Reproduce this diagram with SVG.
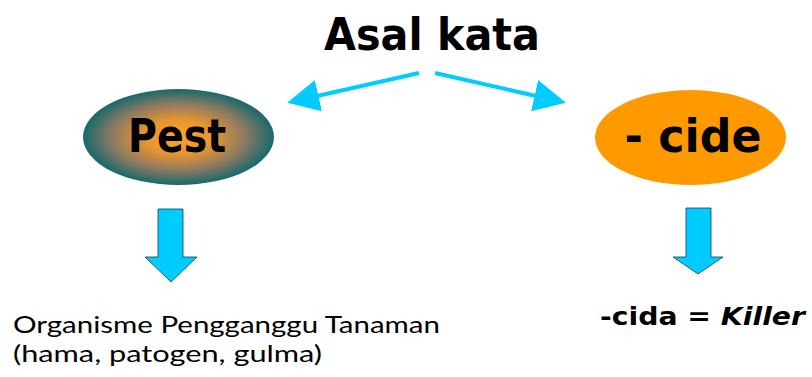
<svg xmlns="http://www.w3.org/2000/svg" width="812" height="377" viewBox="0 0 812 377">
<defs>
<style>
.comic{font-family:"Comic Sans MS","DejaVu Sans",sans-serif;font-weight:bold;fill:#000}
.cal{font-family:Lato,"Liberation Sans",sans-serif;fill:#000;font-size:24px}
.conn{stroke:#00CCFF;stroke-width:4;fill:none}
.down{fill:#00CCFF;stroke:#1a3a4a;stroke-width:0.8}
</style>
<radialGradient id="pestGrad" cx="0.5" cy="0.5" r="0.5">
<stop offset="0" stop-color="#FBA52E"/>
<stop offset="0.35" stop-color="#E9952F"/>
<stop offset="0.7" stop-color="#8C7A62"/>
<stop offset="1" stop-color="#17696C"/>
</radialGradient>
<marker id="ah" markerWidth="8" markerHeight="8" refX="6" refY="4" orient="auto" markerUnits="strokeWidth">
<path d="M0,0 L8,4 L0,8 z" fill="#00CCFF"/>
</marker>
</defs>
<g id="title"><text class="comic" x="432" y="50" font-size="44" text-anchor="middle" textLength="216" lengthAdjust="spacingAndGlyphs">Asal kata</text></g>
<g id="connectors">
<line class="conn" x1="419" y1="73" x2="295" y2="101" marker-end="url(#ah)"/>
<line class="conn" x1="435" y1="73" x2="558" y2="101" marker-end="url(#ah)"/>
<polygon class="down" points="158,209 183,209 183,257 197,257 171,282 145,257 158,257"/>
<polygon class="down" points="686,208 711,208 711,257 723,257 698,274 673,257 686,257"/>
</g>
<g id="pest">
<ellipse cx="178.5" cy="137" rx="95.5" ry="48" fill="url(#pestGrad)"/>
<text class="comic" x="177" y="152" font-size="46" text-anchor="middle" textLength="98" lengthAdjust="spacingAndGlyphs">Pest</text>
</g>
<g id="cide">
<ellipse cx="690.5" cy="137.5" rx="95.5" ry="47.5" fill="#FF9900"/>
<text class="comic" x="693" y="152" font-size="46" text-anchor="middle" textLength="137" lengthAdjust="spacingAndGlyphs">- cide</text>
</g>
<g id="opt">
<text class="cal" x="13" y="333" textLength="427" lengthAdjust="spacingAndGlyphs">Organisme Pengganggu Tanaman</text>
<text class="cal" x="13" y="362" textLength="309" lengthAdjust="spacingAndGlyphs">(hama, patogen, gulma)</text>
</g>
<g id="killer">
<text class="comic" x="600" y="325" font-size="25" textLength="205" lengthAdjust="spacingAndGlyphs">-cida = <tspan font-style="italic">Killer</tspan></text>
</g>
</svg>
